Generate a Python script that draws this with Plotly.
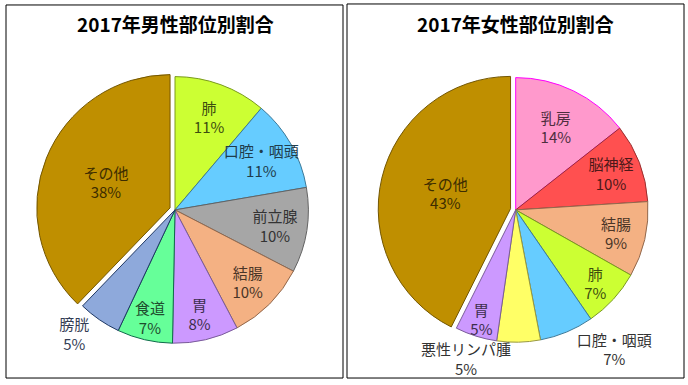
import math
import plotly.graph_objects as go

# ---------------- data ----------------
male_title = "2017年男性部位別割合"
male_labels = ["肺", "口腔・咽頭", "前立腺", "結腸", "胃", "食道", "膀胱", "その他"]
male_values = [11.2, 11.1, 10.3, 9.7, 8.0, 6.7, 5.2, 37.8]

female_title = "2017年女性部位別割合"
female_labels = ["乳房", "脳神経", "結腸", "肺", "口腔・咽頭", "悪性リンパ腫", "胃", "その他"]
female_values = [14.4, 9.6, 9.2, 7.2, 6.6, 5.3, 5.1, 42.6]

# ---------------- style ----------------
W, H = 688, 385
FONT = "Noto Sans CJK JP"
FS = 15

male_fill = ["#CCFF33", "#66CCFF", "#A6A6A6", "#F4B183", "#CC99FF", "#66FF99", "#8EA9DB", "#BF8F00"]
male_line = ["#7A9A1F", "#3D7A99", "#636363", "#92694E", "#7A5C99", "#0F6B4A", "#1F3864", "#735600"]
male_text = ["#3D4D10", "#1F3D4D", "#333333", "#4A3527", "#3D2E4D", "#1F4D2E", "#333D55", "#3D2D00"]
male_pos = ["inside"] * 6 + ["outside", "inside"]

female_fill = ["#FF99CC", "#FF5050", "#F4B183", "#CCFF33", "#66CCFF", "#FFFF66", "#CC99FF", "#BF8F00"]
female_line = ["#FF00FF", "#993030", "#92694E", "#7A9A1F", "#3D7A99", "#99993D", "#7A5C99", "#735600"]
female_text = ["#4D2E3D", "#4D1818", "#4A3527", "#3D4D10", "#333333", "#333333", "#3D2E4D", "#3D2D00"]
female_pos = ["inside"] * 4 + ["outside", "none", "inside", "inside"]

PULL = 0.04
MALE_C, MALE_R = (175, 211), 134
FEMALE_C, FEMALE_R = (515.7, 211), 133


def domain(c, r):
    cx, cy = c
    half = r * (1 + PULL)
    return dict(x=[(cx - half) / W, (cx + half) / W],
                y=[1 - (cy + half) / H, 1 - (cy - half) / H])


def pie(labels, values, fill, line, tcol, pos, dom):
    return go.Pie(
        labels=labels, values=values, sort=False, direction="clockwise", rotation=0,
        marker=dict(colors=fill, line=dict(color=line, width=1)),
        pull=[0] * (len(values) - 1) + [PULL],
        texttemplate="%{label}<br>%{percent:.0%}",
        textposition=pos,
        insidetextorientation="horizontal",
        textfont=dict(family=FONT, size=FS, color=tcol),
        showlegend=False, hoverinfo="label+percent",
        domain=dom,
    )


fig = go.Figure()
fig.add_trace(pie(male_labels, male_values, male_fill, male_line, male_text, male_pos,
                  domain(MALE_C, MALE_R)))
fig.add_trace(pie(female_labels, female_values, female_fill, female_line, female_text, female_pos,
                  domain(FEMALE_C, FEMALE_R)))

shapes = [
    dict(type="rect", xref="paper", yref="paper",
         x0=6 / W, x1=343 / W, y0=1 - 380 / H, y1=1 - 5 / H,
         line=dict(color="#000000", width=1)),
    dict(type="rect", xref="paper", yref="paper",
         x0=347 / W, x1=684 / W, y0=1 - 380 / H, y1=1 - 4 / H,
         line=dict(color="#000000", width=1)),
]
annotations = [
    dict(text="<b>" + male_title + "</b>", x=175 / W, y=1 - 24 / H, xref="paper", yref="paper",
         showarrow=False, font=dict(family=FONT, size=19, color="#000000"),
         xanchor="center", yanchor="middle"),
    dict(text="<b>" + female_title + "</b>", x=515.5 / W, y=1 - 24 / H, xref="paper", yref="paper",
         showarrow=False, font=dict(family=FONT, size=19, color="#000000"),
         xanchor="center", yanchor="middle"),
]

# outside label of the small female slice, placed from its own slice angle
idx = female_labels.index("悪性リンパ腫")
tot = sum(female_values)
mid = (sum(female_values[:idx]) + female_values[idx] / 2) / tot * 2 * math.pi
LBL_DX, LBL_DY = -53, -6  # style offset of the label block
lx = FEMALE_C[0] + FEMALE_R * math.sin(mid) + LBL_DX
ly = FEMALE_C[1] - FEMALE_R * math.cos(mid) + LBL_DY
pct = female_values[idx] / tot
annotations.append(dict(
    text=f"{female_labels[idx]}<br>{pct:.0%}", x=lx / W, y=1 - ly / H,
    xref="paper", yref="paper", showarrow=False, xanchor="center", yanchor="top",
    font=dict(family=FONT, size=FS, color=female_text[idx]),
))

fig.update_layout(
    width=W, height=H, margin=dict(l=0, r=0, t=0, b=0), autosize=False,
    paper_bgcolor="#FFFFFF", plot_bgcolor="#FFFFFF",
    shapes=shapes, annotations=annotations,
    uniformtext=dict(minsize=FS, mode="show"),
    font=dict(family=FONT),
)

post = "document.body.style.margin='0';"

fig.write_html("out.html", config={"responsive": False, "displayModeBar": False},
               post_script=post)
